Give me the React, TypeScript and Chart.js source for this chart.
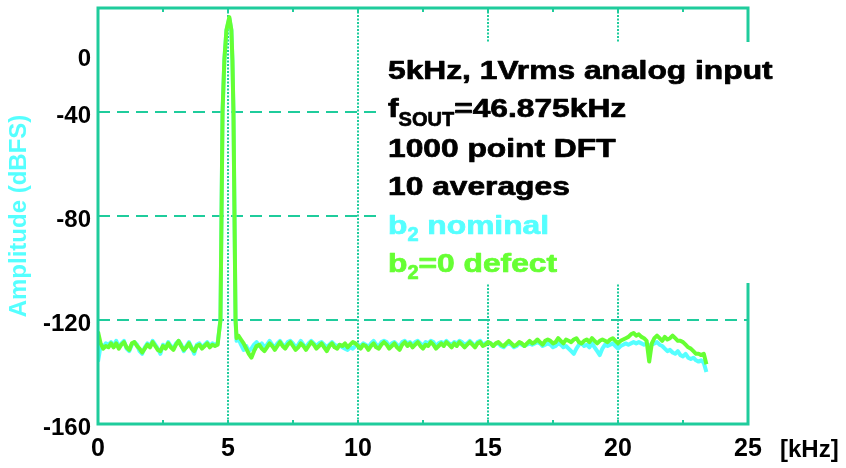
import React, { useEffect, useRef } from "react";
import { Chart, registerables } from "chart.js";

Chart.register(...registerables);

// ---------- data ----------
const freqKHz = [
  0, 0.1, 0.2, 0.3, 0.4, 0.5, 0.6, 0.7, 0.8, 0.9,
  1, 1.1, 1.2, 1.3, 1.4, 1.5, 1.6, 1.7, 1.8, 1.9,
  2, 2.1, 2.2, 2.3, 2.4, 2.5, 2.6, 2.7, 2.8, 2.9,
  3, 3.1, 3.2, 3.3, 3.4, 3.5, 3.6, 3.7, 3.8, 3.9,
  4, 4.1, 4.2, 4.3, 4.4, 4.5, 4.6,
  4.71, 4.75, 4.79, 4.86, 4.94, 5.05, 5.13, 5.17, 5.21, 5.25, 5.29, 5.33,
  5.4, 5.5, 5.6, 5.7, 5.8, 5.9, 6, 6.1, 6.2, 6.3,
  6.4, 6.5, 6.6, 6.7, 6.8, 6.9, 7, 7.1, 7.2, 7.3,
  7.4, 7.5, 7.6, 7.7, 7.8, 7.9, 8, 8.1, 8.2, 8.3,
  8.4, 8.5, 8.6, 8.7, 8.8, 8.9, 9, 9.1, 9.2, 9.3,
  9.4, 9.5, 9.6, 9.7, 9.8, 9.9, 10, 10.1, 10.2, 10.3,
  10.4, 10.5, 10.6, 10.7, 10.8, 10.9, 11, 11.1, 11.2, 11.3,
  11.4, 11.5, 11.6, 11.7, 11.8, 11.9, 12, 12.1, 12.2, 12.3,
  12.4, 12.5, 12.6, 12.7, 12.8, 12.9, 13, 13.1, 13.2, 13.3,
  13.4, 13.5, 13.6, 13.7, 13.8, 13.9, 14, 14.1, 14.2, 14.3,
  14.4, 14.5, 14.6, 14.7, 14.8, 14.9, 15, 15.1, 15.2, 15.3,
  15.4, 15.5, 15.6, 15.7, 15.8, 15.9, 16, 16.1, 16.2, 16.3,
  16.4, 16.5, 16.6, 16.7, 16.8, 16.9, 17, 17.1, 17.2, 17.3,
  17.4, 17.5, 17.6, 17.7, 17.8, 17.9, 18, 18.1, 18.2, 18.3,
  18.4, 18.5, 18.6, 18.7, 18.8, 18.9, 19, 19.1, 19.2, 19.3,
  19.4, 19.5, 19.6, 19.7, 19.8, 19.9, 20, 20.1, 20.2, 20.3,
  20.4, 20.5, 20.6, 20.7, 20.8, 20.9, 21, 21.1, 21.2, 21.3,
  21.4, 21.5, 21.6, 21.7, 21.8, 21.9, 22, 22.1, 22.2, 22.3,
  22.4, 22.5, 22.6, 22.7, 22.8, 22.9, 23, 23.1, 23.2, 23.3,
  23.4,
];

// b2=0 defect (green)
const defectDbfs = [
  -124.5, -129, -131, -130, -130.5, -129, -130.5, -129, -131, -129.5,
  -128.5, -130.5, -131.5, -129, -128.5, -130, -131, -132.5, -131, -129.5,
  -130.5, -128.5, -130, -131.5, -132, -130, -131, -129, -130.5, -131.5,
  -129.5, -128, -130, -131.5, -130.5, -129, -131, -132, -130, -129.5,
  -131, -130, -129, -130.5, -129.5, -130, -129.5,
  -120, -80, -40, -20, -8.5, -3.5, -8.5, -20, -40, -80, -120, -127,
  -126, -127.5, -129, -131, -133, -134.5, -132, -130, -129.5, -131,
  -132, -130.5, -129, -130, -131.5, -130, -128.5, -130, -131, -129.5,
  -128.5, -130, -131.5, -130.5, -129, -130, -131.5, -130, -128.5, -129.5,
  -131, -130, -129, -130.5, -132, -130, -129, -130.5, -131, -129.5,
  -130, -129, -130.5, -129.5, -128.5, -129, -130, -131, -129.5, -130,
  -131.5, -130, -129, -130.5, -131, -129.5, -128.5, -129.5, -131, -130,
  -129, -130.5, -131.5, -129.5, -128.5, -130, -129, -130.5, -129.5, -128.5,
  -130, -131, -129.5, -130, -128.5, -129.5, -131, -130, -129, -130,
  -128.5, -129.5, -130.5, -129, -130, -128.5, -129.5, -130.5, -129.5, -128.5,
  -129.5, -130.5, -129, -128.5, -130, -129.5, -128.5, -129, -130, -129,
  -128.5, -129.5, -130, -129, -128, -129, -130, -129.5, -128.5, -129,
  -130, -129, -128, -129, -128.5, -127.5, -128.5, -129.5, -128, -127.5,
  -128, -129, -128.5, -127, -128, -129, -127.5, -128, -128.5, -127.5,
  -127, -128.5, -129, -128, -127.5, -128.5, -127, -128, -129, -128,
  -127.5, -128, -128.5, -127.5, -127, -128, -129, -128, -127.5, -127,
  -126.5, -125.5, -125, -126, -125.5, -126.5, -127, -128, -136, -129,
  -127, -126, -127, -128, -126.5, -127.5, -127, -126, -127, -128,
  -128, -128.5, -129.5, -130.5, -131, -132, -133, -133, -133.5, -133,
  -137,
];

// b2 nominal (cyan)
const nominalDbfs = [
  -136, -130, -130.5, -129, -129.5, -128.5, -130, -128, -130.5, -129,
  -128, -131, -132, -129.5, -128.5, -129.5, -132, -133, -130.5, -129,
  -130, -128, -129.5, -131, -133, -129.5, -130.5, -128.5, -130, -131,
  -129, -128, -129.5, -132, -130, -128.5, -130.5, -133, -129.5, -129,
  -130.5, -129.5, -128.5, -130, -129, -129.5, -129,
  -120, -80, -40, -20, -8.5, -4, -8.5, -20, -40, -80, -120, -128,
  -127, -129.5, -131.5, -130, -132, -131, -129.5, -128.5, -130, -129,
  -130.5, -129.5, -128, -129.5, -130.5, -129, -128, -129.5, -130, -128.5,
  -128, -129, -130.5, -129.5, -128, -129.5, -130.5, -129, -128, -129,
  -130, -129, -128.5, -129.5, -130.5, -129.5, -128.5, -129.5, -130, -129.5,
  -130.5, -131, -131.5, -130.5, -131, -130, -129.5, -130, -129, -129.5,
  -130.5, -129, -128, -129.5, -130, -128.5, -128, -128.5, -130, -129,
  -128.5, -129.5, -130, -128.5, -128, -129, -128.5, -129.5, -128.5, -128,
  -129, -130, -128.5, -129, -128, -128.5, -130, -129, -128.5, -129,
  -128, -129, -129.5, -128.5, -129, -128, -128.5, -129.5, -129, -128,
  -129, -130, -128.5, -128, -129.5, -129, -128.5, -129, -130, -129,
  -129, -130, -130.5, -129.5, -129, -129.5, -130.5, -130, -129, -129.5,
  -130, -129.5, -129, -129.5, -129, -128.5, -129, -130, -129.5, -129,
  -129.5, -130.5, -130, -129, -129.5, -130.5, -130, -131, -132, -133,
  -131, -129.5, -129, -130, -129.5, -130.5, -129, -130.5, -132, -133.5,
  -131, -129.5, -130, -129.5, -129, -130, -131, -130, -129.5, -129,
  -129.5, -129, -128.5, -129, -128.5, -129, -129.5, -129, -130, -129.5,
  -129, -128.5, -129.5, -130, -131, -132, -131.5, -132.5, -133, -132,
  -133.5, -134, -133, -134.5, -135, -134.5, -135.5, -136, -135.5, -136.5,
  -140,
];

const xMin = 0;
const xMax = 25;
const xStep = 5;
const xMinorTicks = [2.5, 5, 7.5, 10, 12.5, 15, 17.5, 20, 22.5];
const yMin = -160;
const yMax = 0;
const yTickValues = [-160, -120, -80, -40, -18.3];
const yTickLabels = ["-160", "-120", "-80", "-40", "0"];
const yGridValues = [-40, -80, -120];

const xUnitLabel = "[kHz]";
const yTitle = "Amplitude (dBFS)";
const seriesNames = ["b2=0 defect", "b2 nominal"];

// ---------- styles ----------
const FONT = "'Liberation Sans', Arial, Helvetica, sans-serif";
const TEAL = "#1fcc9c";
const CYAN = "#55ffff";
const GREEN = "#66ff33";
const NONE = "rgba(0,0,0,0)";

type Part = { t: string; size: number; dy: number; sx: number };

function drawParts(ctx: CanvasRenderingContext2D, parts: Part[], x: number, y: number, color: string) {
  let cx = x;
  ctx.fillStyle = color;
  ctx.strokeStyle = color;
  ctx.lineWidth = 0.7;
  ctx.lineJoin = "round";
  ctx.textBaseline = "alphabetic";
  ctx.textAlign = "left";
  for (const p of parts) {
    ctx.font = `bold ${p.size}px ${FONT}`;
    ctx.save();
    ctx.translate(cx, y + p.dy);
    ctx.scale(p.sx, 1);
    ctx.fillText(p.t, 0, 0);
    ctx.strokeText(p.t, 0, 0);
    ctx.restore();
    cx += ctx.measureText(p.t).width * p.sx;
  }
}

const SX = 1.27;
const main = (t: string): Part => ({ t, size: 25, dy: 0, sx: SX });
const sub = (t: string, dy: number): Part => ({ t, size: 20, dy, sx: 1.0 });

const overlayPlugin = {
  id: "overlay",
  afterDraw(chart: any) {
    const { ctx, chartArea: a, scales } = chart;
    const xs = scales.x;
    ctx.save();
    ctx.strokeStyle = TEAL;
    ctx.lineWidth = 2;
    ctx.setLineDash([]);
    for (const v of xMinorTicks) {
      const px = xs.getPixelForValue(v);
      ctx.beginPath();
      ctx.moveTo(px, a.top);
      ctx.lineTo(px, a.top + 4);
      ctx.moveTo(px, a.bottom);
      ctx.lineTo(px, a.bottom - 4);
      ctx.stroke();
    }
    ctx.lineWidth = 3;
    ctx.strokeRect(a.left, a.top, a.right - a.left, a.bottom - a.top);
    ctx.fillStyle = "#ffffff";
    ctx.fillRect(378, 42, 846 - 378, 283 - 42);
    const x0 = 388;
    drawParts(ctx, [main("5kHz, 1Vrms analog input")], x0, 79, "#000");
    drawParts(ctx, [main("f"), sub("SOUT", 9), main("=46.875kHz")], x0, 117, "#000");
    drawParts(ctx, [main("1000 point DFT")], x0, 157, "#000");
    drawParts(ctx, [main("10 averages")], x0, 195, "#000");
    drawParts(ctx, [main("b"), sub("2", 7), main(" nominal")], x0, 234, CYAN);
    drawParts(ctx, [main("b"), sub("2", 7), main("=0 defect")], x0, 272, GREEN);
    ctx.font = `bold 24px ${FONT}`;
    ctx.fillStyle = "#000";
    ctx.textAlign = "left";
    ctx.textBaseline = "alphabetic";
    ctx.fillText(xUnitLabel, 780, 457);
    ctx.restore();
  },
};

export default function App() {
  const ref = useRef<HTMLCanvasElement>(null);
  useEffect(() => {
    if (!ref.current) return;
    const chart = new Chart(ref.current, {
      type: "line",
      data: {
        datasets: [
          {
            label: seriesNames[0],
            data: freqKHz.map((f, i) => ({ x: f, y: defectDbfs[i] })),
            borderColor: GREEN,
            borderWidth: 4,
            pointRadius: 0,
            tension: 0,
            borderJoinStyle: "round",
            order: 0,
          },
          {
            label: seriesNames[1],
            data: freqKHz.map((f, i) => ({ x: f, y: nominalDbfs[i] })),
            borderColor: CYAN,
            borderWidth: 4,
            pointRadius: 0,
            tension: 0,
            borderJoinStyle: "round",
            order: 1,
          },
        ],
      },
      options: {
        responsive: false,
        animation: false,
        devicePixelRatio: 1,
        layout: { padding: { left: 0, right: 98, top: 8, bottom: 0 } },
        plugins: { legend: { display: false }, tooltip: { enabled: false }, title: { display: false } },
        scales: {
          x: {
            type: "linear",
            min: xMin,
            max: xMax,
            afterFit: (s: any) => {
              s.height = 44;
              s.paddingLeft = 0;
              s.paddingRight = 0;
            },
            ticks: {
              stepSize: xStep,
              autoSkip: false,
              maxRotation: 0,
              padding: 10,
              color: "#000",
              font: { family: FONT, size: 25, weight: "bold" },
              callback: (v: any) => String(v),
            },
            grid: {
              drawTicks: false,
              lineWidth: 2,
              color: (c: any) => (c.tick && c.tick.value > xMin && c.tick.value < xMax ? TEAL : NONE),
            },
            border: { display: false, dash: [2, 1.5] },
          },
          y: {
            type: "linear",
            min: yMin,
            max: yMax,
            afterBuildTicks: (s: any) => {
              s.ticks = yTickValues.map((v) => ({ value: v }));
            },
            afterFit: (s: any) => {
              s.width = 98;
              s.paddingTop = 0;
              s.paddingBottom = 0;
            },
            title: {
              display: true,
              text: yTitle,
              color: CYAN,
              font: { family: FONT, size: 24, weight: "bold" },
              padding: { top: 5, bottom: 0 },
            },
            ticks: {
              autoSkip: false,
              padding: 7,
              labelOffset: 4,
              color: "#000",
              font: { family: FONT, size: 24, weight: "bold" },
              callback: (v: any) => {
                const i = yTickValues.indexOf(v);
                return i >= 0 ? yTickLabels[i] : "";
              },
            },
            grid: {
              drawTicks: false,
              lineWidth: 2,
              color: (c: any) => (c.tick && yGridValues.includes(c.tick.value) ? TEAL : NONE),
            },
            border: { display: false, dash: [12, 7] },
          },
        },
      },
      plugins: [overlayPlugin],
    } as any);
    return () => chart.destroy();
  }, []);
  return (
    <div style={{ position: "fixed", left: 0, top: 0, width: 846, height: 468, background: "#fff" }}>
      <canvas ref={ref} width={846} height={468} />
    </div>
  );
}
